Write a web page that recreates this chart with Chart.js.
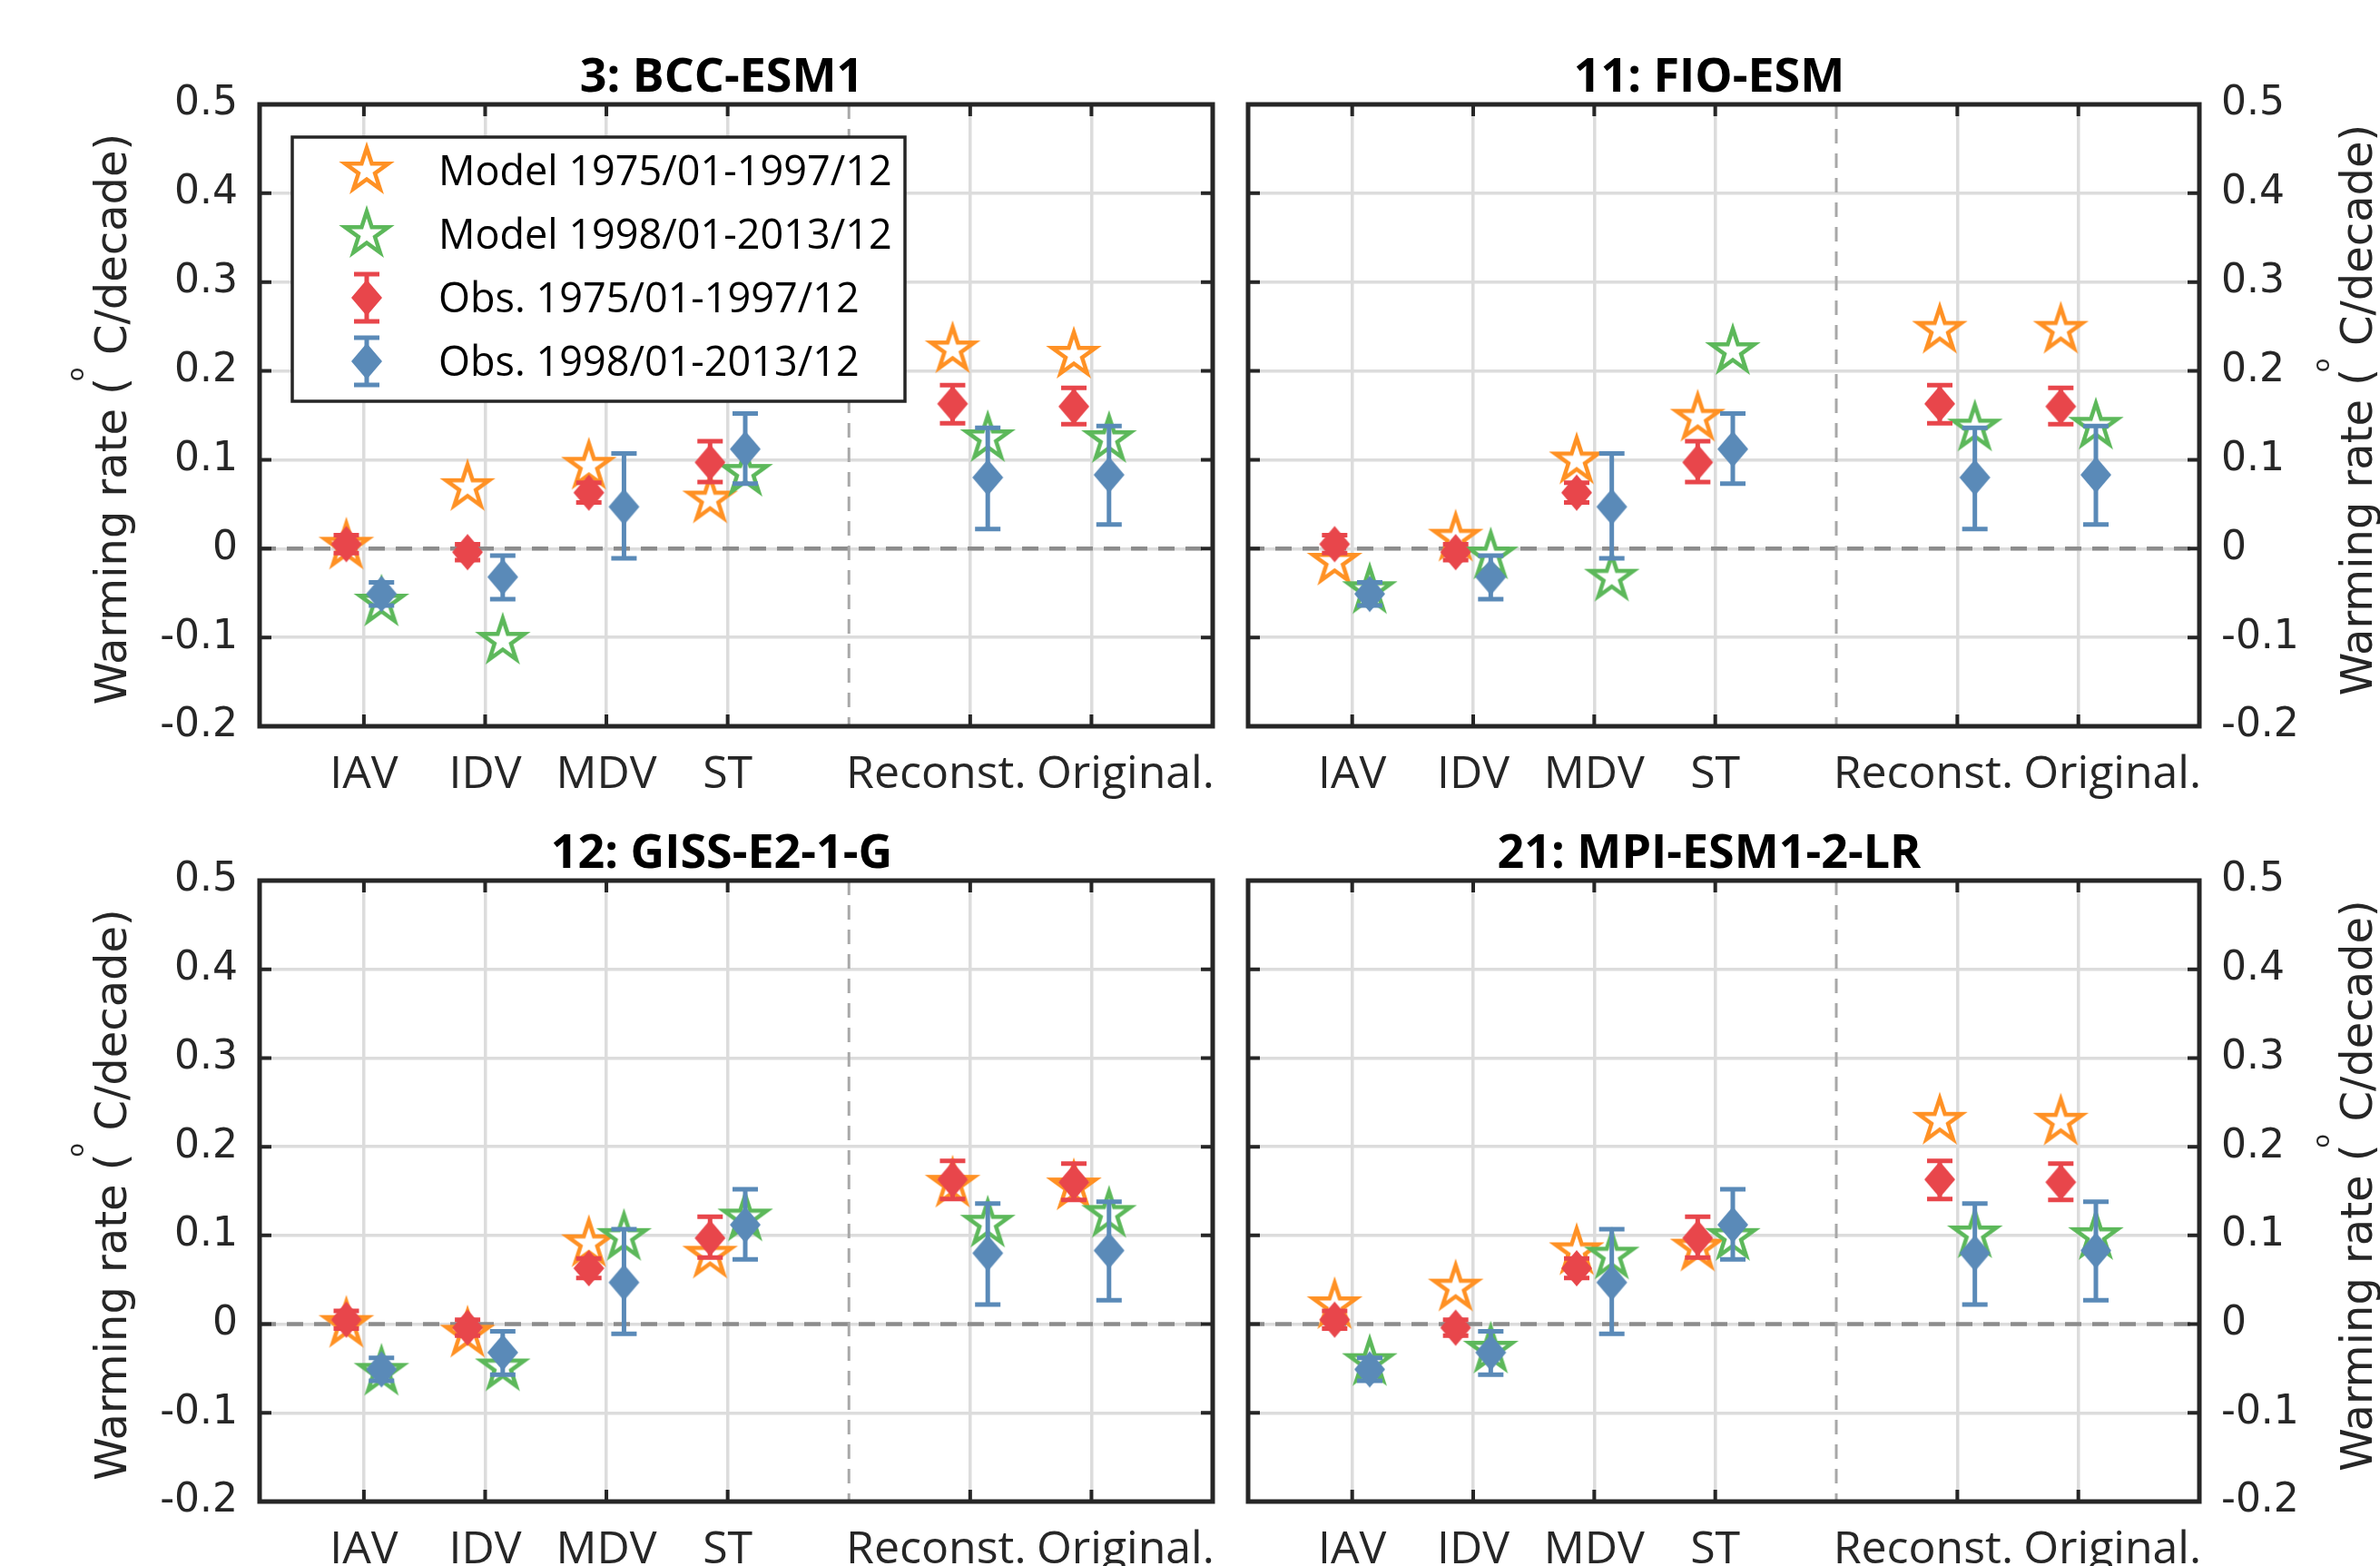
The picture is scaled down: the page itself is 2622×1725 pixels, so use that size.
<!DOCTYPE html>
<html>
<head>
<meta charset="utf-8">
<script src="https://cdn.jsdelivr.net/npm/chart.js@4.4.0/dist/chart.umd.min.js"></script>
<style>
html, body { margin: 0; padding: 0; background: #fff; }
#wrap { position: relative; width: 2622px; height: 1725px; overflow: hidden; background: #fff; }
canvas { position: absolute; }
</style>
</head>
<body>
<div id="wrap">
  <canvas id="c0"></canvas>
  <canvas id="c1"></canvas>
  <canvas id="c2"></canvas>
  <canvas id="c3"></canvas>
</div>
<script>
// categories on the x axis
const categories = ['IAV', 'IDV', 'MDV', 'ST', 'Reconst.', 'Original.'];
const catPos = [1, 2, 3, 4, 6, 7];
const dividerPos = 5;

const panelTitles = ['3: BCC-ESM1', '11: FIO-ESM', '12: GISS-E2-1-G', '21: MPI-ESM1-2-LR'];
const legendLabels = ['Model 1975/01-1997/12', 'Model 1998/01-2013/12', 'Obs. 1975/01-1997/12', 'Obs. 1998/01-2013/12'];

// observations (same in every panel)
const obsEarly     = [0.005, -0.004, 0.063, 0.097, 0.163, 0.160];
const obsEarlyLow  = [-0.005, -0.013, 0.052, 0.075, 0.141, 0.140];
const obsEarlyHigh = [0.015, 0.005, 0.074, 0.121, 0.184, 0.181];
const obsLate      = [-0.051, -0.032, 0.047, 0.112, 0.080, 0.083];
const obsLateLow   = [-0.064, -0.057, -0.011, 0.073, 0.022, 0.027];
const obsLateHigh  = [-0.038, -0.008, 0.107, 0.152, 0.136, 0.138];

// models
const bccEarly  = [0.003, 0.069, 0.093, 0.055, 0.224, 0.218];
const bccLate   = [-0.061, -0.104, null, 0.085, 0.124, 0.123];
const fioEarly  = [-0.015, 0.012, 0.099, 0.147, 0.246, 0.246];
const fioLate   = [-0.047, -0.008, -0.033, 0.222, 0.136, 0.138];
const gissEarly = [0.000, -0.011, 0.091, 0.078, 0.158, 0.155];
const gissLate  = [-0.054, -0.049, 0.098, 0.120, 0.113, 0.124];
const mpiEarly  = [0.021, 0.041, 0.082, 0.086, 0.229, 0.228];
const mpiLate   = [-0.043, -0.029, 0.077, 0.098, 0.101, 0.099];

const modelEarly = [bccEarly, fioEarly, gissEarly, mpiEarly];
const modelLate = [bccLate, fioLate, gissLate, mpiLate];

const ORANGE = '#FF9124', GREEN = '#5CB85A', RED = '#E8464B', BLUE = '#5A8AB8';
const INK = '#262626', GRID = '#dcdcdc';
const dx = 0.145;

// panel boxes on the page
const boxes = [
  {left: 0,    top: 0,   w: 1372, h: 900, side: 'left',  l: 286,  t: 115, r: 1336, b: 800},
  {left: 1354, top: 0,   w: 1268, h: 900, side: 'right', l: 1374, t: 115, r: 2423, b: 800},
  {left: 0,    top: 900, w: 1372, h: 825, side: 'left',  l: 286,  t: 970, r: 1336, b: 1654},
  {left: 1354, top: 900, w: 1268, h: 825, side: 'right', l: 1374, t: 970, r: 2423, b: 1654}
];

function starImage(color) {
  var R = 25, r = R * 0.382, s = 80;
  var c = document.createElement('canvas');
  c.width = s; c.height = s;
  var g = c.getContext('2d');
  g.translate(s / 2, s / 2);
  g.beginPath();
  for (var i = 0; i < 10; i++) {
    var rad = i % 2 ? r : R;
    var a = -Math.PI / 2 + i * Math.PI / 5;
    g.lineTo(rad * Math.cos(a), rad * Math.sin(a));
  }
  g.closePath();
  g.fillStyle = '#fff';
  g.fill();
  g.lineWidth = 4.5;
  g.lineJoin = 'miter';
  g.miterLimit = 10;
  g.strokeStyle = color;
  g.stroke();
  return c;
}

function diamondImage(color) {
  var w = 34, h = 40;
  var c = document.createElement('canvas');
  c.width = w + 2; c.height = h + 2;
  var g = c.getContext('2d');
  g.translate(c.width / 2, c.height / 2);
  g.beginPath();
  g.moveTo(0, -h / 2); g.lineTo(w / 2, 0); g.lineTo(0, h / 2); g.lineTo(-w / 2, 0);
  g.closePath();
  g.fillStyle = color;
  g.fill();
  return c;
}

const starOrange = starImage(ORANGE), starGreen = starImage(GREEN);
const diaRed = diamondImage(RED), diaBlue = diamondImage(BLUE);

function pts(vals, off) {
  return catPos.map(function (p, i) { return {x: p + off, y: vals[i]}; });
}

function drawErrBar(ctx, px, y1, y2, color) {
  ctx.save();
  ctx.strokeStyle = color;
  ctx.lineWidth = 5;
  ctx.beginPath();
  ctx.moveTo(px, y1); ctx.lineTo(px, y2);
  ctx.moveTo(px - 14, y1); ctx.lineTo(px + 14, y1);
  ctx.moveTo(px - 14, y2); ctx.lineTo(px + 14, y2);
  ctx.stroke();
  ctx.restore();
}

function drawYTitle(ctx, bx, cy) {
  ctx.save();
  ctx.translate(bx, cy);
  ctx.rotate(-Math.PI / 2);
  ctx.fillStyle = INK;
  ctx.textBaseline = 'alphabetic';
  ctx.textAlign = 'left';
  ctx.font = '48px "DejaVu Sans"';
  var s1 = 'Warming rate (', s2 = 'C/decade)';
  var w1 = ctx.measureText(s1).width, w2 = ctx.measureText(s2).width;
  var gap = 25;
  var x0 = -(w1 + gap + w2) / 2;
  ctx.fillText(s1, x0, 0);
  ctx.fillText(s2, x0 + w1 + gap, 0);
  ctx.font = '25px "DejaVu Sans"';
  ctx.fillText('o', x0 + w1 - 4, -47);
  ctx.restore();
}

function drawLegend(ctx) {
  var bx = 322, by = 151, bw = 675, bh = 291;
  ctx.save();
  ctx.fillStyle = '#fff';
  ctx.fillRect(bx, by, bw, bh);
  ctx.strokeStyle = INK;
  ctx.lineWidth = 3.5;
  ctx.strokeRect(bx, by, bw, bh);
  var rows = [188, 258, 328, 398], sx = 404;
  ctx.drawImage(starOrange, sx - 40, rows[0] - 40);
  ctx.drawImage(starGreen, sx - 40, rows[1] - 40);
  drawErrBar(ctx, sx, rows[2] - 26, rows[2] + 26, RED);
  ctx.drawImage(diaRed, sx - diaRed.width / 2, rows[2] - diaRed.height / 2);
  drawErrBar(ctx, sx, rows[3] - 26, rows[3] + 26, BLUE);
  ctx.drawImage(diaBlue, sx - diaBlue.width / 2, rows[3] - diaBlue.height / 2);
  ctx.fillStyle = '#000';
  ctx.font = '45px "Open Sans"';
  ctx.textBaseline = 'alphabetic';
  ctx.textAlign = 'left';
  for (var i = 0; i < 4; i++) {
    ctx.fillText(legendLabels[i], 483, rows[i] + 16);
  }
  ctx.restore();
}

const panelPlugin = {
  id: 'panel',
  beforeDatasetsDraw(chart) {
    var ctx = chart.ctx, a = chart.chartArea, x = chart.scales.x, y = chart.scales.y;
    ctx.save();
    var y0 = y.getPixelForValue(0);
    ctx.strokeStyle = '#8c8c8c';
    ctx.lineWidth = 4.5;
    ctx.setLineDash([18, 12]);
    ctx.beginPath(); ctx.moveTo(a.left, y0); ctx.lineTo(a.right, y0); ctx.stroke();
    var x5 = x.getPixelForValue(dividerPos);
    ctx.strokeStyle = '#a8a8a8';
    ctx.lineWidth = 3;
    ctx.setLineDash([16, 11]);
    ctx.beginPath(); ctx.moveTo(x5, a.top); ctx.lineTo(x5, a.bottom); ctx.stroke();
    ctx.restore();
  },
  beforeDatasetDraw(chart, args) {
    var ds = chart.data.datasets[args.index];
    if (!ds.errLow) return;
    var x = chart.scales.x, y = chart.scales.y;
    catPos.forEach(function (p, i) {
      drawErrBar(chart.ctx, x.getPixelForValue(p + ds.off),
        y.getPixelForValue(ds.errLow[i]), y.getPixelForValue(ds.errHigh[i]), ds.errColor);
    });
  },
  afterDraw(chart, args, opts) {
    var ctx = chart.ctx, a = chart.chartArea, x = chart.scales.x, y = chart.scales.y;
    ctx.save();
    // ticks inside the box
    ctx.strokeStyle = INK;
    ctx.lineWidth = 4;
    ctx.beginPath();
    y.ticks.forEach(function (t) {
      var py = y.getPixelForValue(t.value);
      ctx.moveTo(a.left, py); ctx.lineTo(a.left + 13, py);
      ctx.moveTo(a.right, py); ctx.lineTo(a.right - 13, py);
    });
    catPos.forEach(function (p) {
      var px = x.getPixelForValue(p);
      ctx.moveTo(px, a.bottom); ctx.lineTo(px, a.bottom - 13);
      ctx.moveTo(px, a.top); ctx.lineTo(px, a.top + 13);
    });
    ctx.stroke();
    ctx.lineWidth = 5;
    ctx.strokeRect(a.left, a.top, a.right - a.left, a.bottom - a.top);
    // title
    ctx.fillStyle = '#000';
    ctx.font = 'bold 52px "Open Sans"';
    ctx.textAlign = 'center';
    ctx.textBaseline = 'alphabetic';
    ctx.fillText(opts.title, (a.left + a.right) / 2 - 16, a.top - 14);
    ctx.restore();
    var cy = (a.top + a.bottom) / 2;
    if (opts.side === 'left') drawYTitle(ctx, a.left - 147, cy + 4);
    else drawYTitle(ctx, a.right + 190, cy - 6);
    if (opts.legend) drawLegend(ctx);
  }
};

function fmt(v) {
  return Math.abs(v) < 1e-9 ? '0' : v.toFixed(1);
}

function makeChart(k) {
  var b = boxes[k];
  var cv = document.getElementById('c' + k);
  cv.width = b.w; cv.height = b.h;
  cv.style.left = b.left + 'px';
  cv.style.top = b.top + 'px';
  var isLeft = b.side === 'left';
  var axisW = isLeft ? b.l - b.left : b.w - (b.r - b.left);
  var axisH = b.h - (b.b - b.top);
  new Chart(cv, {
    type: 'scatter',
    data: {
      datasets: [
        {label: legendLabels[3], data: pts(obsLate, dx), pointStyle: diaBlue, pointRadius: 16,
         errLow: obsLateLow, errHigh: obsLateHigh, errColor: BLUE, off: dx},
        {label: legendLabels[2], data: pts(obsEarly, -dx), pointStyle: diaRed, pointRadius: 16,
         errLow: obsEarlyLow, errHigh: obsEarlyHigh, errColor: RED, off: -dx},
        {label: legendLabels[1], data: pts(modelLate[k], dx), pointStyle: starGreen, pointRadius: 20},
        {label: legendLabels[0], data: pts(modelEarly[k], -dx), pointStyle: starOrange, pointRadius: 20}
      ]
    },
    options: {
      responsive: false,
      animation: false,
      events: [],
      layout: {padding: {left: isLeft ? 0 : b.l - b.left, right: isLeft ? b.w - (b.r - b.left) : 0, top: b.t - b.top, bottom: 0}},
      scales: {
        x: {
          type: 'linear', min: 0.14, max: 8,
          afterBuildTicks: function (s) { s.ticks = catPos.map(function (v) { return {value: v}; }); },
          afterFit: function (s) { s.height = axisH; },
          grid: {color: GRID, lineWidth: 3.5, drawTicks: false},
          border: {display: false},
          ticks: {
            padding: 24, color: INK, autoSkip: false, maxRotation: 0,
            font: {family: 'Open Sans', size: 50},
            callback: function (v, i) {
              var s = categories[i];
              if (i === 4) s = s + '\u2003\u2002';
              if (i === 5) s = '\u2003\u2002' + s;
              return s;
            }
          }
        },
        y: {
          position: b.side, min: -0.2, max: 0.5,
          afterFit: function (s) { s.width = axisW; },
          grid: {color: GRID, lineWidth: 3.5, drawTicks: false},
          border: {display: false},
          ticks: {
            stepSize: 0.1, padding: 24, color: INK,
            font: {family: 'DejaVu Sans', size: 44},
            callback: function (v) { return fmt(v); }
          }
        }
      },
      plugins: {
        legend: {display: false},
        tooltip: {enabled: false},
        panel: {title: panelTitles[k], side: b.side, legend: k === 0}
      }
    },
    plugins: [panelPlugin]
  });
}

for (var k = 0; k < 4; k++) makeChart(k);
</script>
</body>
</html>
